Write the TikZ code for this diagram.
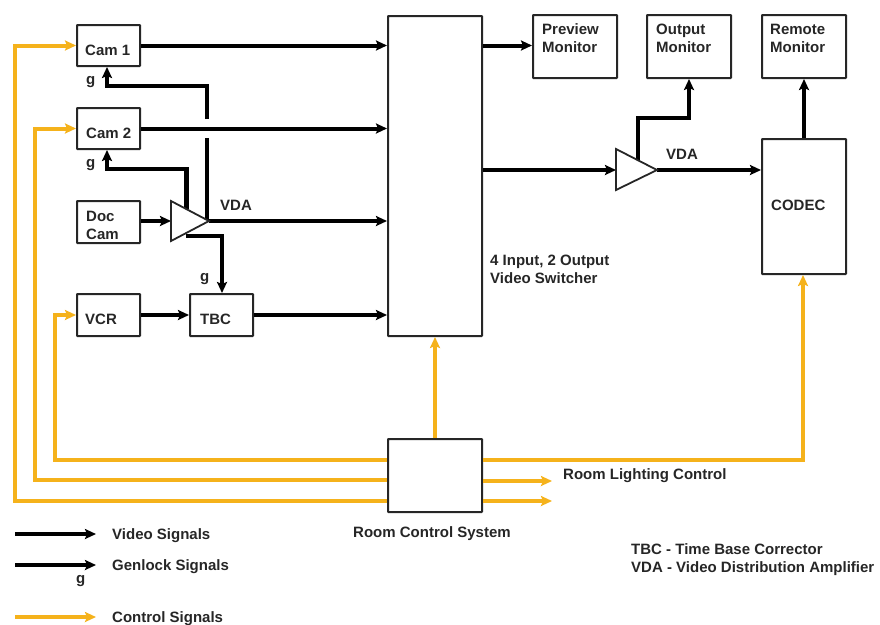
\documentclass[tikz,border=0pt]{standalone}
\usepackage{fontspec}
\setmainfont{Liberation Sans}
\usetikzlibrary{arrows.meta}
\definecolor{ctrlorange}{HTML}{F5B21B}
\tikzset{
  sysbox/.style={draw=black!85, line width=2pt, rounded corners=.6pt, inner sep=0pt},
  lbl/.style={anchor=west, inner sep=0pt, yshift=-1.5pt, align=left, font=\fontsize{15}{18}\selectfont\bfseries, text=black!85},
  video/.style={draw=black, line width=4pt, -{Stealth[length=11pt,width=10pt,inset=2pt]}},
  genlock/.style={video, line width=4.6pt},
  control/.style={draw=ctrlorange, line width=4pt, -{Stealth[length=11pt,width=10pt,inset=2pt]}},
  vdatri/.style={draw=black!85, line width=1.8pt, fill=white, line join=miter},
}
\begin{document}
\begin{tikzpicture}[x=1pt,y=-1pt]
\useasboundingbox (0,0) rectangle (880,624);
% boxes
\node[sysbox, minimum width=63pt, minimum height=41pt] (cam1) at (108.5,45.5) {};
\node[sysbox, minimum width=63pt, minimum height=41pt] (cam2) at (108.5,128.5) {};
\node[sysbox, minimum width=63pt, minimum height=42pt] (doccam) at (108.5,222) {};
\node[sysbox, minimum width=63pt, minimum height=42pt] (vcr) at (108.5,315) {};
\node[sysbox, minimum width=63pt, minimum height=42pt] (tbc) at (221.5,315) {};
\node[sysbox, minimum width=94pt, minimum height=320pt] (switcher) at (435,176) {};
\node[sysbox, minimum width=84pt, minimum height=63pt] (preview) at (575,46.5) {};
\node[sysbox, minimum width=84pt, minimum height=63pt] (output) at (689,46.5) {};
\node[sysbox, minimum width=84pt, minimum height=63pt] (remote) at (804,46.5) {};
\node[sysbox, minimum width=84pt, minimum height=135pt] (codec) at (804,206.5) {};
\node[sysbox, minimum width=94pt, minimum height=73pt] (roomctl) at (435,475.5) {};
% VDA corners
\coordinate (vdaa) at (171,201);
\coordinate (vdab) at (171,241);
\coordinate (vdac) at (209,221);
\coordinate (vdaup) at (186.5,209);
\coordinate (vdaupr) at (207,221);
\coordinate (vdadn) at (186,236);
\coordinate (vdba) at (616,149);
\coordinate (vdbb) at (616,190);
\coordinate (vdbc) at (657,170);
\coordinate (vdbup) at (638,160);
% control signals
\draw[control] (roomctl.north) -- (switcher.south);
\draw[control] (roomctl.east |- 0,460) -- (803,460) -- (codec.south -| 803,0);
\draw[control] (roomctl.east |- 0,481) -- (552,481);
\draw[control] (roomctl.east |- 0,501) -- (552,501);
\draw[control] (roomctl.west |- 0,460) -- (55,460) -- (55,315) -- (vcr.west);
\draw[control] (roomctl.west |- 0,480) -- (35,480) -- (35,128.5) -- (cam2.west);
\draw[control] (roomctl.west |- 0,501) -- (15,501) -- (15,45.5) -- (cam1.west);
% video signals
\draw[video] (cam1.east) -- (cam1.east -| switcher.west);
\draw[video] (cam2.east) -- (cam2.east -| switcher.west);
\draw[video] (vdac) -- (vdac -| switcher.west);
\draw[video] (tbc.east) -- (tbc.east -| switcher.west);
\draw[video] (vcr.east) -- (tbc.west);
\draw[video] (doccam.east |- vdac) -- (vdaa |- vdac);
\draw[video] (cam1.east -| switcher.east) -- (cam1.east -| preview.west);
\draw[video] (switcher.east |- vdbc) -- (vdba |- vdbc);
\draw[video] (vdbc) -- (vdbc -| codec.west);
\draw[video] (vdbup) -- (638,118) -- (689,118) -- (output.south);
\draw[video] (codec.north) -- (remote.south);
% genlock signals
\draw[genlock] (207,119) -- (207,86) -- (107,86) -- (cam1.south -| 107,0);
\draw[line width=4.6pt] (vdaupr) -- (207,138);
\draw[genlock] (vdaup) -- (186.5,169) -- (107,169) -- (cam2.south -| 107,0);
\draw[genlock] (vdadn) -- (222,236) -- (tbc.north -| 222,0);
% amplifiers
\draw[vdatri] (vdaa) -- (vdab) -- (vdac) -- cycle;
\draw[vdatri] (vdba) -- (vdbb) -- (vdbc) -- cycle;
% box texts
\node[lbl] (camonetxt) at (85,49) {Cam 1};
\node[lbl] (camtwotxt) at (86,132) {Cam 2};
\node[lbl] (doccamtxt) at (86,224) {Doc\\Cam};
\node[lbl] (vcrtxt) at (85,318) {VCR};
\node[lbl] (tbctxt) at (200,318) {TBC};
\node[lbl] (previewtxt) at (542,37) {Preview\\Monitor};
\node[lbl] (outputtxt) at (656,37) {Output\\Monitor};
\node[lbl] (remotetxt) at (770,37) {Remote\\Monitor};
\node[lbl] (codectxt) at (771,204) {CODEC};
\node[lbl] (switchertxt) at (490,268) {4 Input, 2 Output\\Video Switcher};
\node[lbl] (roomctltxt) at (353,532) {Room Control System};
\node[lbl] (lighttxt) at (563,474) {Room Lighting Control};
\node[lbl] (vdaonetxt) at (220,204) {VDA};
\node[lbl] (vdatwotxt) at (666,153) {VDA};
\node[lbl] (gone) at (86,81) {g};
\node[lbl] (gtwo) at (86,164) {g};
\node[lbl] (gthree) at (200,278) {g};
% legend
\coordinate (legva) at (15,534);
\coordinate (legvb) at (96,534);
\coordinate (legga) at (15,565);
\coordinate (leggb) at (96,565);
\coordinate (legca) at (15,617);
\coordinate (legcb) at (96,617);
\draw[video] (legva) -- (legvb);
\draw[genlock] (legga) -- (leggb);
\draw[control] (legca) -- (legcb);
\node[lbl] (legvtxt) at (112,534) {Video Signals};
\node[lbl] (leggtxt) at (112,565) {Genlock Signals};
\node[lbl] (leggg) at (76,580) {g};
\node[lbl] (legctxt) at (112,617) {Control Signals};
\node[lbl] (abbrtxt) at (631,558) {TBC - Time Base Corrector\\VDA - Video Distribution Amplifier};
\end{tikzpicture}
\end{document}
